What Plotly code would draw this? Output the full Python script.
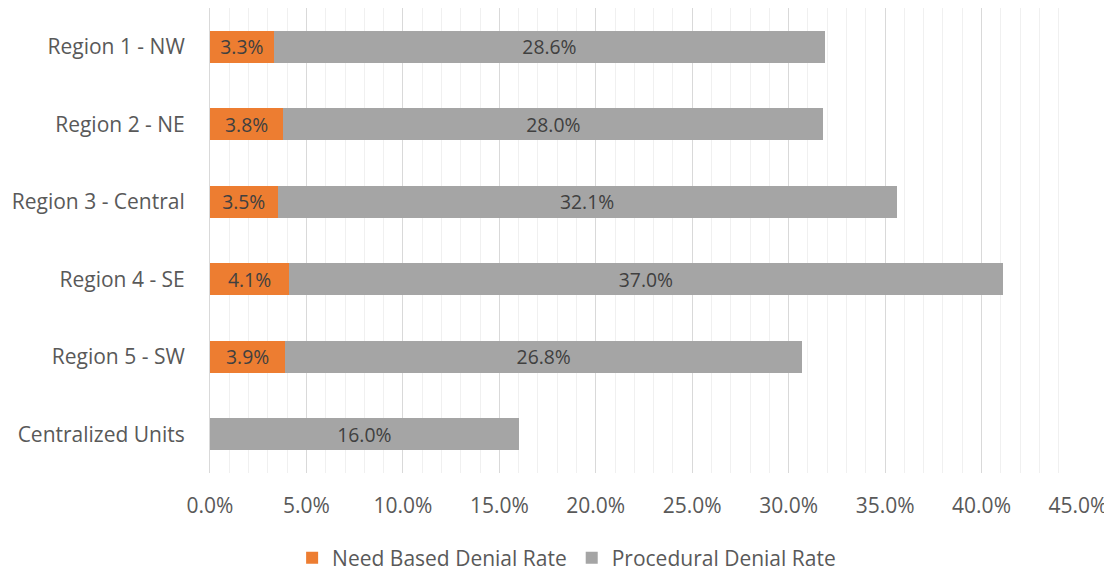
import plotly.graph_objects as go

categories = ["Region 1 - NW", "Region 2 - NE", "Region 3 - Central", "Region 4 - SE", "Region 5 - SW", "Centralized Units"]
need_based = [0.033, 0.038, 0.035, 0.041, 0.039, None]
procedural = [0.286, 0.280, 0.321, 0.370, 0.268, 0.160]
x_ticks = [0.0, 0.05, 0.10, 0.15, 0.20, 0.25, 0.30, 0.35, 0.40, 0.45]

FONT = "Open Sans"
TXT = "#404040"
LBL = "#595959"

fig = go.Figure()
fig.add_trace(go.Bar(
    y=categories, x=need_based, orientation="h", name="Need Based Denial Rate",
    marker=dict(color="#ED7D31", line=dict(width=0)),
    texttemplate="%{x:.1%}", textposition="inside", insidetextanchor="middle",
    textfont=dict(family=FONT, size=21, color=TXT), hoverinfo="x+y+name",
))
fig.add_trace(go.Bar(
    y=categories, x=procedural, orientation="h", name="Procedural Denial Rate",
    marker=dict(color="#A5A5A5", line=dict(width=0)),
    texttemplate="%{x:.1%}", textposition="inside", insidetextanchor="middle",
    textfont=dict(family=FONT, size=21, color=TXT), hoverinfo="x+y+name",
))

# page body has an 8px margin, so the figure is sized to the visible area
fig.update_layout(
    width=1104, height=563,
    barmode="stack", bargap=0.59,
    paper_bgcolor="white", plot_bgcolor="white",
    margin=dict(l=202, r=34, t=0, b=98),
    font=dict(family=FONT, size=21, color=LBL),
    uniformtext=dict(minsize=10, mode="show"),
    xaxis=dict(
        range=[0, 0.45001], tickvals=x_ticks, tickformat=".1%",
        showgrid=True, gridcolor="#D9D9D9", gridwidth=1,
        minor=dict(dtick=0.01, tick0=0, showgrid=True, gridcolor="#F0F0F0", gridwidth=1),
        zeroline=False, showline=False, ticks="", ticklabelstandoff=18,
        tickfont=dict(family=FONT, size=21, color=LBL), automargin=False,
    ),
    yaxis=dict(
        autorange="reversed", showgrid=False, ticks="", ticklabelstandoff=20,
        showline=True, linecolor="#D9D9D9", linewidth=1,
        tickfont=dict(family=FONT, size=21, color=LBL), automargin=False,
    ),
    legend=dict(
        orientation="h", xref="container", yref="container",
        x=0.506, xanchor="center", y=0.023, yanchor="middle",
        font=dict(family=FONT, size=21, color=LBL),
        itemsizing="constant", traceorder="normal",
    ),
    showlegend=True,
)

fig.write_html("out.html")
